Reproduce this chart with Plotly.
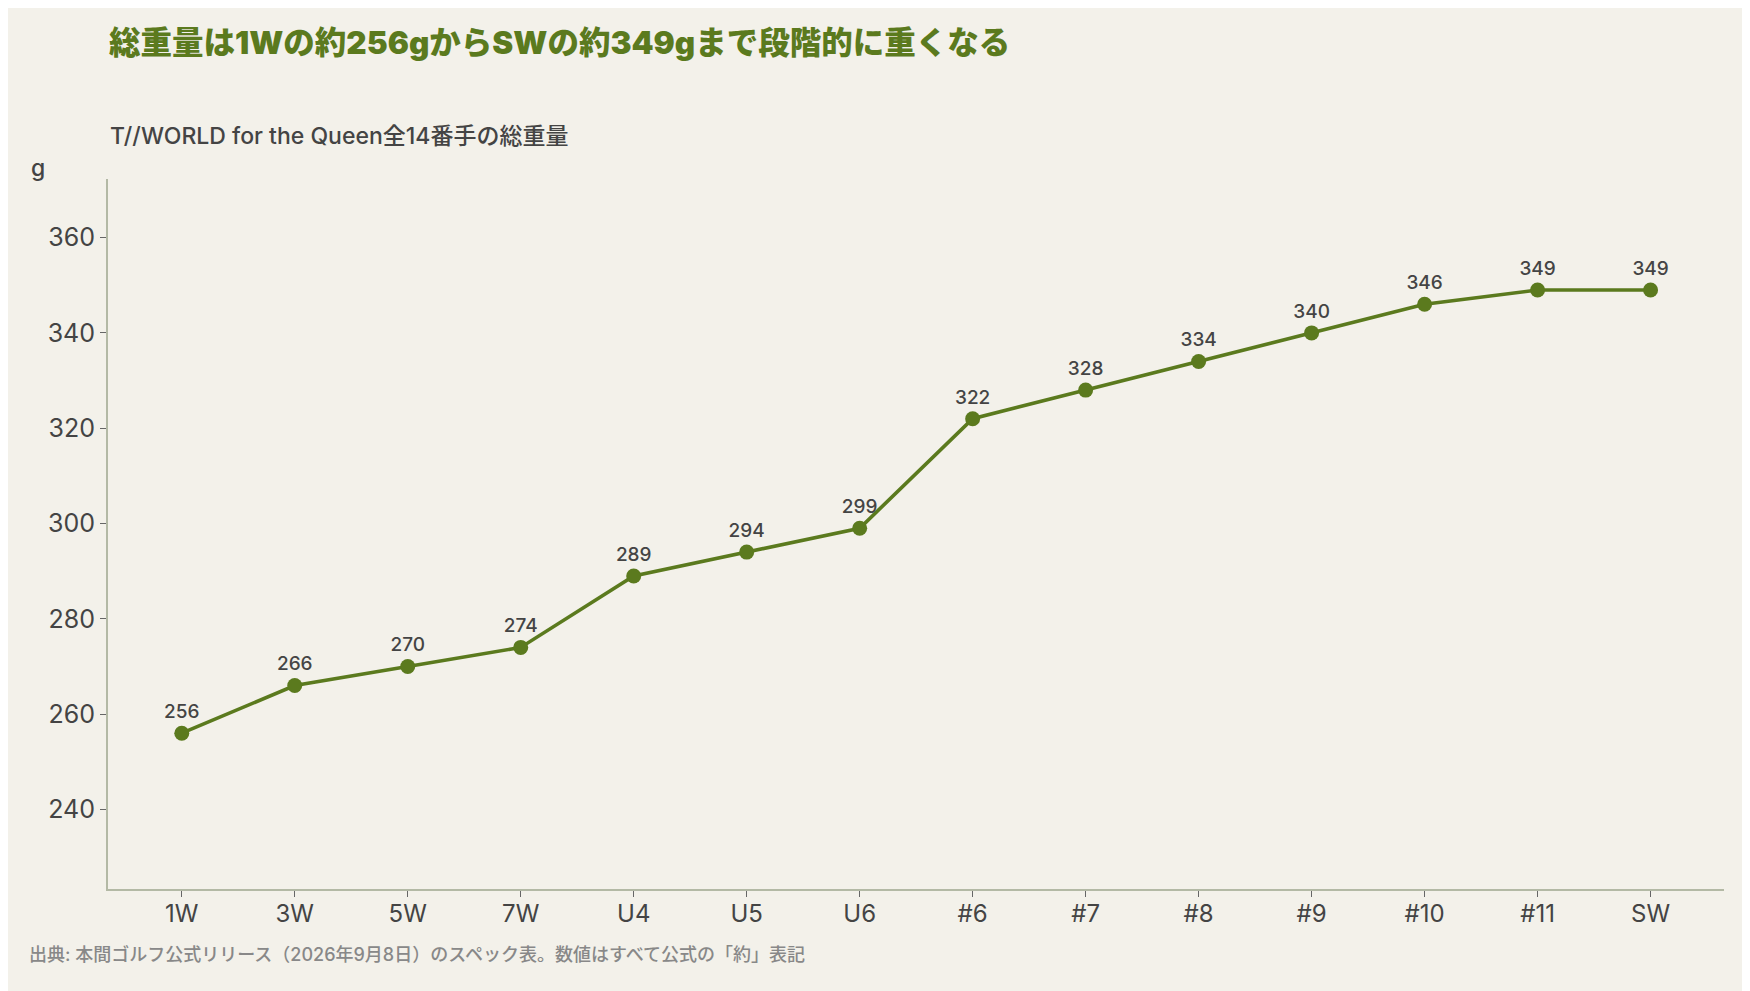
import plotly.graph_objects as go

clubs = ["1W", "3W", "5W", "7W", "U4", "U5", "U6", "#6", "#7", "#8", "#9", "#10", "#11", "SW"]
weights = [256, 266, 270, 274, 289, 294, 299, 322, 328, 334, 340, 346, 349, 349]
y_ticks = [240, 260, 280, 300, 320, 340, 360]

title_text = "総重量は1Wの約256gからSWの約349gまで段階的に重くなる"
subtitle_text = "T//WORLD for the Queen全14番手の総重量"
unit_text = "g"
source_text = "出典: 本間ゴルフ公式リリース（2026年9月8日）のスペック表。数値はすべて公式の「約」表記"

GREEN = "#5b7a1e"
BG = "#f3f1ea"
AXIS = "#b3b9a5"
TEXT = "#444444"
FONT = "Inter, Noto Sans CJK JP"

# page body offset compensation
OFF = 8
W, H = 1750, 991
ML, MT = 108 - OFF, 179 - OFF
MR = W - (1724 - OFF)
MB = H - (889 - OFF)
PW, PH = W - ML - MR, H - MT - MB

def px(x):
    return (x - OFF - ML) / PW

def py(y):
    return 1 - (y - OFF - MT) / PH

fig = go.Figure()
fig.add_trace(go.Scatter(
    x=list(range(len(clubs))), y=weights,
    mode="lines+markers+text",
    line=dict(color=GREEN, width=3.6),
    marker=dict(color=GREEN, size=15),
    text=[str(v) for v in weights],
    textposition="top center",
    textfont=dict(family=FONT, size=19, color=TEXT, weight=500),
    hoverinfo="skip",
    cliponaxis=False,
))

fig.update_layout(
    width=W, height=H,
    margin=dict(l=ML, r=MR, t=MT, b=MB),
    paper_bgcolor=BG, plot_bgcolor=BG,
    showlegend=False,
    font=dict(family=FONT, color=TEXT),
    title=dict(
        text=title_text,
        x=(109 - OFF) / W, xref="container", xanchor="left",
        y=1 - (43 - OFF) / H, yref="container", yanchor="middle",
        font=dict(family=FONT, size=31.5, color=GREEN, weight=900),
    ),
    xaxis=dict(
        tickmode="array", tickvals=list(range(len(clubs))), ticktext=clubs,
        range=[-0.653, len(clubs) - 1 + 0.65],
        showgrid=False, zeroline=False,
        showline=True, linecolor=AXIS, linewidth=2,
        ticks="outside", ticklen=6, tickcolor="#666666", tickwidth=1,
        ticklabelstandoff=-4,
        tickfont=dict(family=FONT, size=24, color=TEXT),
    ),
    yaxis=dict(
        tickmode="array", tickvals=y_ticks,
        range=[223.3, 372.3],
        showgrid=False, zeroline=False,
        showline=True, linecolor=AXIS, linewidth=2,
        ticks="outside", ticklen=6, tickcolor="#666666", tickwidth=1,
        tickfont=dict(family=FONT, size=25, color=TEXT),
    ),
)

fig.add_annotation(
    text=subtitle_text, xref="paper", yref="paper",
    x=px(108), y=py(136), xanchor="left", yanchor="middle",
    showarrow=False, font=dict(family=FONT, size=23, color=TEXT, weight=500),
)
fig.add_annotation(
    text=unit_text, xref="paper", yref="paper",
    x=px(29), y=py(168), xanchor="left", yanchor="middle",
    showarrow=False, font=dict(family=FONT, size=23, color=TEXT, weight=500),
)
fig.add_annotation(
    text=source_text, xref="paper", yref="paper",
    x=px(27), y=py(954), xanchor="left", yanchor="middle",
    showarrow=False, font=dict(family=FONT, size=18, color="#888888", weight=500),
)

fig.write_html("out.html")
